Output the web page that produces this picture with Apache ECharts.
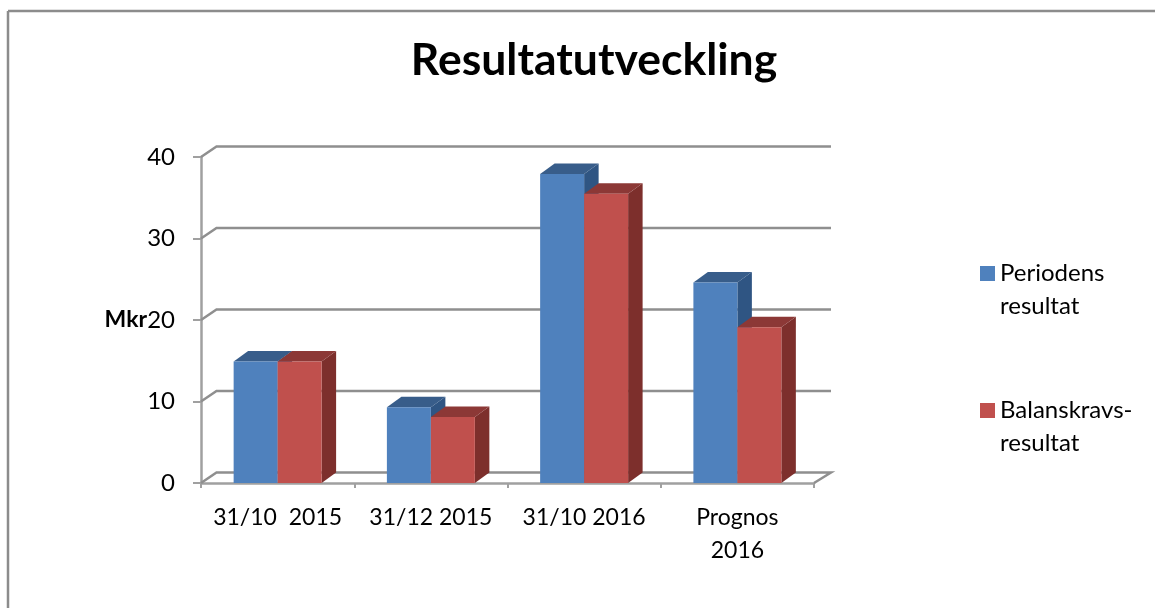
<!DOCTYPE html>
<html>
<head>
<meta charset="utf-8">
<style>
html, body { margin: 0; padding: 0; background: #fff; }
#container { width: 1155px; height: 608px; }
</style>
<script src="https://cdn.jsdelivr.net/npm/echarts@6/dist/echarts.min.js"></script>
</head>
<body>
<div id="container"></div>
<script>
var categories = ['31/10  2015', '31/12 2015', '31/10 2016', 'Prognos\n2016'];
var periodens = [14.9, 9.3, 37.9, 24.6];
var balanskrav = [14.9, 8.1, 35.5, 19.1];
var gridTicks = [0, 10, 20, 30, 40];

var font = 'Lato, "Open Sans", sans-serif';
// depth of the fake 3d in pixels
var depthX = 14.5, depthY = -10.5;
var wallX = 15.5, wallY = -10.5;
var gridColor = '#8f8f8f';
var axisColor = '#a0a0a0';

function barRender(colors, side) {
  return function (params, api) {
    var top = api.coord([api.value(0), api.value(1)]);
    var base = api.coord([api.value(0), 0]);
    var w = api.size([1, 0])[0] * 0.287;
    var x0 = side < 0 ? top[0] - w : top[0];
    var x1 = x0 + w;
    var t = top[1], b = base[1];
    return {
      type: 'group',
      children: [
        { type: 'polygon', shape: { points: [[x1, t], [x1 + depthX, t + depthY], [x1 + depthX, b + depthY], [x1, b]] }, style: { fill: colors.side } },
        { type: 'polygon', shape: { points: [[x0, t], [x0 + depthX, t + depthY], [x1 + depthX, t + depthY], [x1, t]] }, style: { fill: colors.top } },
        { type: 'rect', shape: { x: x0, y: t, width: w, height: b - t }, style: { fill: colors.front } }
      ]
    };
  };
}

function wallRender(params, api) {
  var y = api.coord([0, api.value(1)])[1];
  var left = params.coordSys.x;
  var right = left + params.coordSys.width;
  var pts = [[left, y], [left + wallX, y + wallY], [right + wallX + 1.5, y + wallY]];
  if (api.value(1) === 0) {
    pts.push([right, y]);
  }
  return {
    type: 'polyline',
    shape: { points: pts },
    style: { stroke: gridColor, lineWidth: 2.5, fill: null }
  };
}

var chart = echarts.init(document.getElementById('container'), null, { renderer: 'canvas' });

chart.setOption({
  animation: false,
  backgroundColor: '#fff',
  title: {
    text: 'Resultatutveckling',
    left: 589,
    top: 33,
    textAlign: 'center',
    textStyle: { fontFamily: font, fontSize: 44.5, fontWeight: 'bold', color: '#000' }
  },
  legend: {
    orient: 'vertical',
    left: 975,
    top: 219,
    itemWidth: 15,
    itemHeight: 15,
    itemGap: 38,
    icon: 'rect',
    selectedMode: false,
    data: ['Periodens\nresultat', 'Balanskravs-\nresultat'],
    // blank first line keeps the swatch level with the first text line
    formatter: function (name) { return '\n' + name; },
    textStyle: { fontFamily: font, fontSize: 24, color: '#000', lineHeight: 33 }
  },
  grid: { left: 201, right: 341, top: 157, bottom: 125 },
  xAxis: {
    type: 'category',
    data: categories,
    axisLine: { lineStyle: { color: axisColor, width: 2.5 } },
    axisTick: { show: true, length: 5, lineStyle: { color: axisColor, width: 2 } },
    axisLabel: { fontFamily: font, fontSize: 23, color: '#000', margin: 18, lineHeight: 33, interval: 0 }
  },
  yAxis: {
    type: 'value',
    min: 0,
    max: 40,
    interval: 10,
    name: 'Mkr',
    nameLocation: 'middle',
    nameRotate: 0,
    nameGap: 54,
    nameMoveOverlap: false,
    nameTextStyle: { fontFamily: font, fontSize: 23, fontWeight: 'bold', color: '#000', padding: [0, 0, 8, 0] },
    axisLine: { show: true, lineStyle: { color: axisColor, width: 2.5 } },
    axisTick: { show: true, length: 8, lineStyle: { color: axisColor, width: 2 } },
    axisLabel: { fontFamily: font, fontSize: 24, color: '#000', margin: 26 },
    splitLine: { show: false }
  },
  graphic: [
    { type: 'line', shape: { x1: 8, y1: 11, x2: 1155, y2: 11 }, style: { stroke: '#8c8c8c', lineWidth: 2.5 } },
    { type: 'line', shape: { x1: 8, y1: 11, x2: 8, y2: 608 }, style: { stroke: '#8c8c8c', lineWidth: 2.5 } }
  ],
  series: [
    {
      type: 'custom',
      silent: true,
      z: 1,
      renderItem: wallRender,
      data: gridTicks.map(function (t) { return [0, t]; })
    },
    {
      name: 'Periodens\nresultat',
      type: 'custom',
      z: 3,
      itemStyle: { color: '#4f81bd' },
      renderItem: barRender({ front: '#4f81bd', top: '#385d8a', side: '#2f5583' }, -1),
      data: periodens.map(function (v, i) { return [i, v]; })
    },
    {
      name: 'Balanskravs-\nresultat',
      type: 'custom',
      z: 4,
      itemStyle: { color: '#c0504d' },
      renderItem: barRender({ front: '#c0504d', top: '#8c3836', side: '#7d2f2c' }, 1),
      data: balanskrav.map(function (v, i) { return [i, v]; })
    }
  ]
});

window.addEventListener('resize', chart.resize);
</script>
</body>
</html>
